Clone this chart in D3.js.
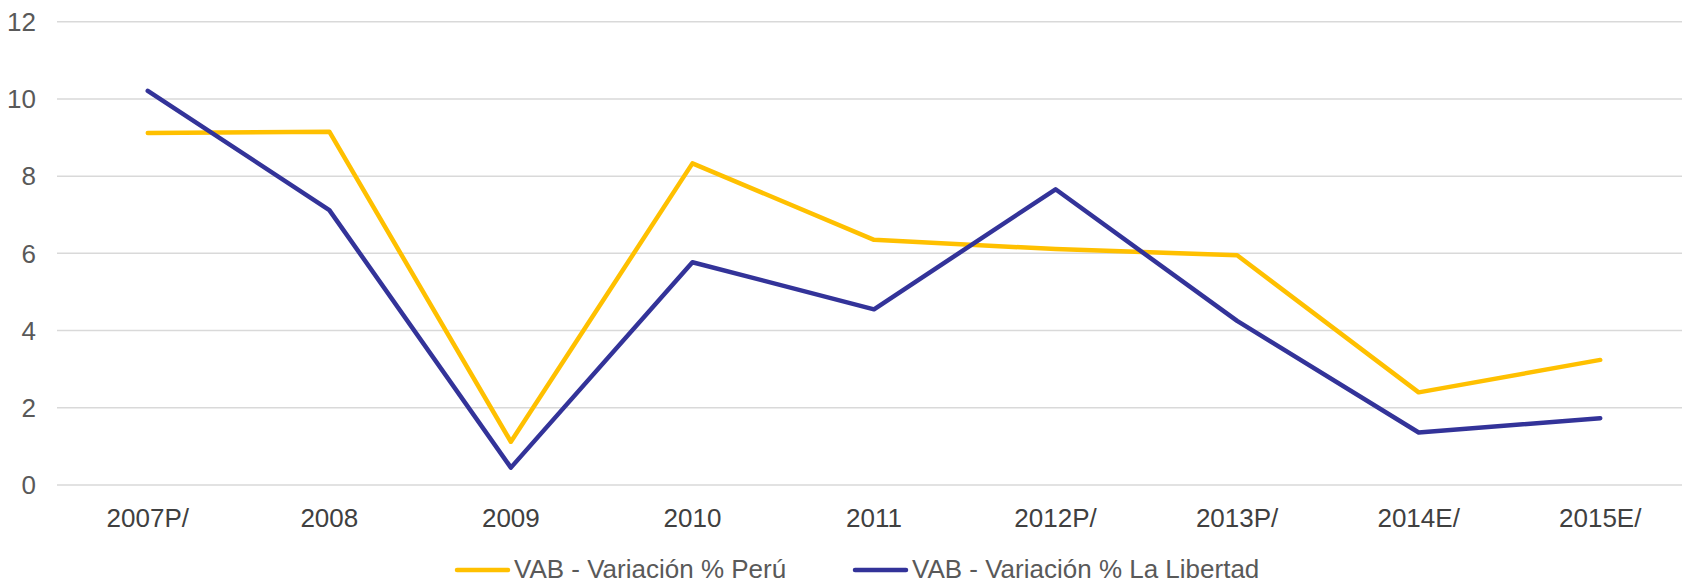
<!DOCTYPE html>
<html>
<head>
<meta charset="utf-8">
<script src="https://cdn.jsdelivr.net/npm/d3@7"></script>
<style>
  body { margin: 0; background: #fff; }
  text { font-family: "Liberation Sans", Arial, sans-serif; fill: #595959; }
</style>
</head>
<body>
<div id="chart"></div>
<script>
// Datos
const years = ["2007P/", "2008", "2009", "2010", "2011", "2012P/", "2013P/", "2014E/", "2015E/"];
const peru = [9.12, 9.15, 1.12, 8.33, 6.35, 6.11, 5.95, 2.40, 3.24];
const libertad = [10.21, 7.12, 0.45, 5.77, 4.55, 7.66, 4.25, 1.36, 1.73];
const yTicks = [0, 2, 4, 6, 8, 10, 12];

const series = [
  { name: "VAB - Variación % Perú", values: peru, color: "#FFC000" },
  { name: "VAB - Variación % La Libertad", values: libertad, color: "#333399" }
];

const width = 1682, height = 584;
const svg = d3.select("#chart")
  .append("svg")
  .attr("width", width)
  .attr("height", height);

// Escalas
const x = d3.scaleBand()
  .domain(years)
  .range([57, 1691]);

const y = d3.scaleLinear()
  .domain([0, 12])
  .range([485, 21.7]);

// Lineas de cuadricula
svg.append("g")
  .selectAll("line")
  .data(yTicks)
  .join("line")
  .attr("x1", 57)
  .attr("x2", width)
  .attr("y1", d => y(d))
  .attr("y2", d => y(d))
  .attr("stroke", "#d9d9d9")
  .attr("stroke-width", 1.5);

// Eje Y
svg.append("g")
  .selectAll("text")
  .data(yTicks)
  .join("text")
  .attr("x", 36)
  .attr("y", d => y(d))
  .attr("dy", "0.36em")
  .attr("text-anchor", "end")
  .style("font-size", "26px")
  .text(d => d);

// Eje X
svg.append("g")
  .selectAll("text")
  .data(years)
  .join("text")
  .attr("x", d => x(d) + x.bandwidth() / 2)
  .attr("y", 527)
  .attr("text-anchor", "middle")
  .style("font-size", "26px")
  .style("fill", "#404040")
  .text(d => d);

// Lineas
const line = d3.line()
  .x((d, i) => x(years[i]) + x.bandwidth() / 2)
  .y(d => y(d));

svg.append("g")
  .selectAll("path")
  .data(series)
  .join("path")
  .attr("d", d => line(d.values))
  .attr("fill", "none")
  .attr("stroke", d => d.color)
  .attr("stroke-width", 4.5)
  .attr("stroke-linejoin", "round")
  .attr("stroke-linecap", "round");

// Leyenda
const legendX = [455, 853];
const legend = svg.append("g")
  .selectAll("g")
  .data(series)
  .join("g")
  .attr("transform", (d, i) => `translate(${legendX[i]}, 570)`);

legend.append("line")
  .attr("x1", 2)
  .attr("x2", 53)
  .attr("stroke", d => d.color)
  .attr("stroke-width", 4.5)
  .attr("stroke-linecap", "round");

legend.append("text")
  .attr("x", 59)
  .attr("y", 8)
  .style("font-size", "26px")
  .text(d => d.name);
</script>
</body>
</html>
